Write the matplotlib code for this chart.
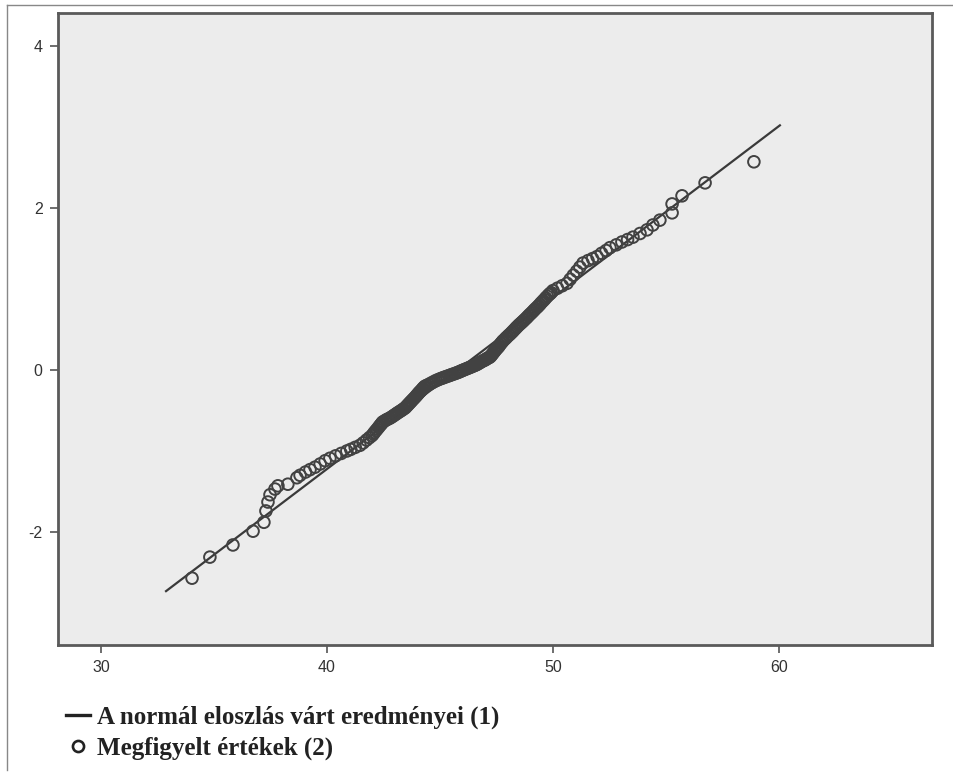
import matplotlib
matplotlib.use("Agg")
import matplotlib.pyplot as plt
from matplotlib.lines import Line2D
from matplotlib.font_manager import FontProperties

obs_x = [34.03, 34.82, 35.84, 36.73, 37.21, 37.30, 37.39, 37.48, 37.70, 37.83,
         38.27, 38.67,
         38.81, 39.05, 39.25, 39.47, 39.70, 39.92, 40.13, 40.38, 40.63,
         40.88, 41.05, 41.25, 41.46, 41.60, 41.75, 41.88,
         41.99, 42.10, 42.22, 42.33, 42.42, 42.48, 42.63, 42.78,
         42.92, 43.05, 43.18, 43.32, 43.45, 43.55, 43.65, 43.75, 43.87,
         43.98, 44.07, 44.16, 44.25, 44.34, 44.50, 44.66, 44.83,
         45.00, 45.15, 45.30, 45.45, 45.60, 45.75,
         45.88, 46.00, 46.13, 46.26, 46.39, 46.52,
         46.64, 46.76, 46.88, 47.00, 47.10,
         47.21, 47.30, 47.40, 47.50, 47.60, 47.70,
         47.79, 47.92, 48.05, 48.18, 48.30, 48.42, 48.55,
         48.67, 48.80, 48.92, 49.05, 49.17, 49.30,
         49.42, 49.55, 49.68, 49.82, 49.92,
         50.00, 50.20, 50.41,
         50.62, 50.76, 50.90, 51.05, 51.19,
         51.33, 51.55, 51.75, 51.95, 52.15, 52.35,
         52.52, 52.80, 53.05, 53.30, 53.54, 53.85, 54.16,
         54.42, 54.73, 55.27, 55.27, 55.71, 56.73, 58.89]
exp_y = [-2.57, -2.31, -2.16, -1.99, -1.88, -1.74, -1.63, -1.54, -1.47, -1.43,
         -1.41, -1.33,
         -1.30, -1.26, -1.23, -1.20, -1.16, -1.12, -1.09, -1.06, -1.03,
         -1.00, -0.98, -0.955, -0.93, -0.90, -0.865, -0.835,
         -0.81, -0.77, -0.73, -0.69, -0.66, -0.64, -0.615, -0.595,
         -0.57, -0.545, -0.52, -0.495, -0.47, -0.44, -0.41, -0.38, -0.345,
         -0.31, -0.28, -0.255, -0.225, -0.20, -0.18, -0.155, -0.13,
         -0.11, -0.095, -0.08, -0.065, -0.05, -0.035,
         -0.02, -0.005, 0.01, 0.025, 0.04, 0.055,
         0.07, 0.09, 0.11, 0.125, 0.145,
         0.16, 0.19, 0.225, 0.26, 0.29, 0.33,
         0.36, 0.395, 0.43, 0.465, 0.50, 0.535, 0.57,
         0.60, 0.635, 0.67, 0.705, 0.74, 0.775,
         0.81, 0.85, 0.89, 0.93, 0.955,
         0.98, 1.01, 1.04,
         1.07, 1.12, 1.17, 1.22, 1.27,
         1.32, 1.35, 1.375, 1.40, 1.44, 1.475,
         1.51, 1.545, 1.58, 1.61, 1.64, 1.685, 1.73,
         1.79, 1.85, 1.94, 2.05, 2.15, 2.31, 2.57]

# further observations in the dense middle of the cloud
mid_x = [42.05, 42.16, 42.28, 42.38, 42.45, 42.56, 42.70, 42.85, 42.98, 43.11,
         43.25, 43.38, 43.50, 43.60, 43.70, 43.81, 43.93, 44.03, 44.12, 44.21,
         44.30, 44.42, 44.58, 44.75, 44.92, 45.08, 45.22, 45.38, 45.52, 45.68,
         45.82, 45.94, 46.06, 46.20, 46.33, 46.46, 46.58, 46.70, 46.82, 46.94,
         47.05, 47.16, 47.26, 47.35, 47.45, 47.55, 47.65, 47.75, 47.86, 47.98,
         48.12, 48.24, 48.36, 48.48, 48.61, 48.73, 48.86, 48.98, 49.11, 49.23,
         49.36, 49.48, 49.62, 49.75, 49.87]
mid_y = [-0.79, -0.75, -0.71, -0.675, -0.65, -0.627, -0.605, -0.582, -0.557, -0.532,
         -0.507, -0.482, -0.455, -0.425, -0.395, -0.362, -0.327, -0.295, -0.267, -0.24,
         -0.212, -0.19, -0.167, -0.142, -0.12, -0.102, -0.087, -0.072, -0.057, -0.042,
         -0.027, -0.012, 0.002, 0.018, 0.032, 0.048, 0.062, 0.08, 0.10, 0.118,
         0.135, 0.152, 0.175, 0.207, 0.243, 0.275, 0.31, 0.345, 0.378, 0.412,
         0.448, 0.482, 0.518, 0.552, 0.585, 0.617, 0.652, 0.687, 0.722, 0.757,
         0.792, 0.83, 0.87, 0.91, 0.942]

# expected normal line end points
line_x = [32.88, 60.04]
line_y = [-2.73, 3.02]

x_ticks = [30, 40, 50, 60]
y_ticks = [-2, 0, 2, 4]
y_labels = ["-2", "0", "2", "4"]

legend_labels = ["A normál eloszlás várt eredményei (1)", "Megfigyelt értékek (2)"]

fig = plt.figure(figsize=(9.54, 7.79), dpi=100)
fig.patch.set_facecolor("white")
ax = fig.add_axes([58 / 954, 1 - 645 / 779, (932 - 58) / 954, (645 - 13) / 779])
ax.set_facecolor("#ececec")

ax.plot(line_x, line_y, color="#3a3a3a", lw=1.6, zorder=2)
ax.scatter(obs_x + mid_x, exp_y + mid_y, s=70, facecolors="none",
           edgecolors="#424242", linewidths=1.4, zorder=3)

ax.set_xlim(28.10, 66.77)
ax.set_ylim(-3.395, 4.407)
ax.set_xticks(x_ticks)
ax.set_yticks(y_ticks)
ax.set_yticklabels(y_labels)
ax.tick_params(direction="out", length=6, width=1.2, color="#555555",
               labelsize=11.5, labelcolor="#333333", pad=5)
for lab in ax.get_xticklabels() + ax.get_yticklabels():
    lab.set_family("Liberation Sans")
for sp in ax.spines.values():
    sp.set_color("#5a5a5a")
    sp.set_linewidth(2)

# outer frame lines of the screenshot
fig.add_artist(Line2D([7.5 / 954, 7.5 / 954], [1 - 770 / 779, 1 - 5 / 779],
                      color="#888888", lw=1))
fig.add_artist(Line2D([7.5 / 954, 1], [1 - 5 / 779, 1 - 5 / 779],
                      color="#888888", lw=1))

handles = [Line2D([], [], color="#222222", lw=2.4),
           Line2D([], [], ls="none", marker="o", markersize=8, markerfacecolor="none",
                  markeredgecolor="#222222", markeredgewidth=1.9)]
fig.legend(handles, legend_labels, loc="upper left",
           bbox_to_anchor=(66 / 954, 1 - 706 / 779), frameon=False,
           prop=FontProperties(family="Liberation Serif", weight="bold", size=18),
           labelcolor="#222222", handlelength=0.95, handletextpad=0.3,
           labelspacing=0.28, borderaxespad=0, borderpad=0)

fig.savefig("out.png", dpi=100)
